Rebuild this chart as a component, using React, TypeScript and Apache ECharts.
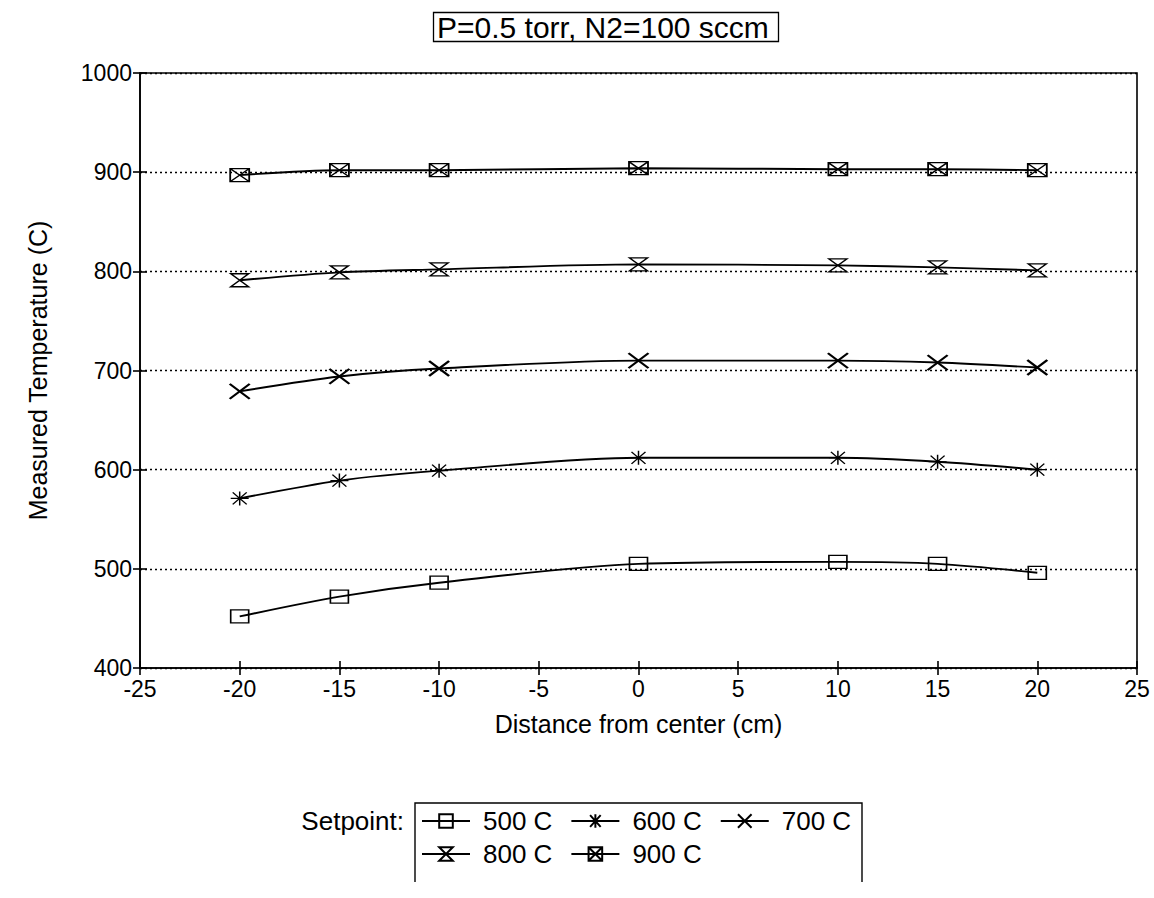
import React, { useEffect, useRef } from "react";
import * as echarts from "echarts";

const xValues = [-20, -15, -10, 0, 10, 15, 20];
const t500 = [452, 472, 486, 505, 507, 505, 496];
const t600 = [571, 589, 599, 612, 612, 608, 600];
const t700 = [679, 694, 702, 710, 710, 708, 703];
const t800 = [791, 799, 802, 807, 806, 804, 801];
const t900 = [897, 902, 902, 904, 903, 903, 902];
const seriesNames = ["500 C", "600 C", "700 C", "800 C", "900 C"];
const titleText = "P=0.5 torr, N2=100 sccm";
const xTitle = "Distance from center (cm)";
const yTitle = "Measured Temperature (C)";
const legendLabel = "Setpoint:";

const FONT = "'Liberation Sans', Arial, Helvetica, sans-serif";

const symbols = [
  "path://M0,0L18,0L18,13L0,13Z",
  "path://M0,7L18,7M9,0L9,14M2,1L16,13M16,1L2,13",
  "path://M0,0L20,15M20,0L0,15",
  "path://M0,0L18,0L0,13L18,13Z",
  "path://M0,0L18,0L18,13L0,13ZM0,0L18,13M18,0L0,13",
];
const symbolSizes = [[18, 13], [18, 14], [20, 15], [18, 13], [19, 13]];
const borderWidths = [1.4, 1.3, 2.2, 1.5, 1.5];

export default function App() {
  const ref = useRef<HTMLDivElement>(null);
  useEffect(() => {
    const chart = echarts.init(ref.current!, null, { renderer: "svg" });
    const allData = [t500, t600, t700, t800, t900];
    const series = allData.map((vals, si) => ({
      type: "line",
      name: seriesNames[si],
      data: xValues.map((x, i) => [x, vals[i]]),
      xAxisIndex: 0,
      yAxisIndex: 0,
      smooth: 0.3,
      symbol: symbols[si],
      symbolSize: symbolSizes[si],
      symbolKeepAspect: false,
      lineStyle: { color: "#000", width: 1.9 },
      itemStyle: { color: "rgba(0,0,0,0)", borderColor: "#000", borderWidth: borderWidths[si] },
      emphasis: { disabled: true },
      z: 3,
    }));
    const axisLineStyle = { color: "#000", width: 1.6 };
    const textBase = { color: "#000", fontFamily: FONT };
    const legendCommon = {
      orient: "horizontal",
      itemWidth: 48,
      itemHeight: 17,
      itemGap: 18,
      selectedMode: false,
      textStyle: { ...textBase, fontSize: 26, padding: [0, 0, 0, 8] },
      padding: 0,
    };
    const option = {
      animation: false,
      backgroundColor: "#fff",
      title: {
        text: titleText,
        left: 433,
        top: 12,
        padding: [0, 10, 0, 4],
        borderColor: "#000",
        borderWidth: 1.3,
        textStyle: { ...textBase, fontSize: 30, fontWeight: "normal" },
      },
      grid: {
        left: 140,
        right: 17,
        top: 73,
        bottom: 230,
        show: true,
        borderColor: "#000",
        borderWidth: 1.6,
        backgroundColor: "transparent",
      },
      xAxis: [
        {
          type: "value",
          min: -25,
          max: 25,
          interval: 5,
          axisLine: { onZero: false, lineStyle: axisLineStyle },
          axisTick: { length: 7, lineStyle: axisLineStyle },
          axisLabel: { ...textBase, fontSize: 23, margin: 9 },
          splitLine: { show: false },
          name: xTitle,
          nameLocation: "middle",
          nameGap: 43,
          nameTextStyle: { ...textBase, fontSize: 25 },
        },
        {
          type: "value",
          min: -25,
          max: 25,
          interval: 5,
          position: "bottom",
          axisLine: { show: false, onZero: false },
          axisTick: { inside: true, length: 7, lineStyle: axisLineStyle },
          axisLabel: { show: false },
          splitLine: { show: false },
        },
      ],
      yAxis: [
        {
          type: "value",
          min: 400,
          max: 1000,
          interval: 100,
          axisLine: { onZero: false, lineStyle: axisLineStyle },
          axisTick: { length: 7, lineStyle: axisLineStyle },
          axisLabel: {
            ...textBase,
            fontSize: 23,
            margin: 8,
            verticalAlign: "middle",
            formatter: (v: number) => String(v),
          },
          splitLine: { show: true, lineStyle: { color: "#000", width: 1.4, type: [2, 3] } },
          name: yTitle,
          nameLocation: "middle",
          nameGap: 90,
          nameTextStyle: { ...textBase, fontSize: 25 },
        },
        {
          type: "value",
          min: 400,
          max: 1000,
          interval: 100,
          position: "left",
          axisLine: { show: false, onZero: false },
          axisTick: { inside: true, length: 7, lineStyle: axisLineStyle },
          axisLabel: { show: false },
          splitLine: { show: false },
        },
      ],
      legend: [
        { ...legendCommon, data: seriesNames.slice(0, 3), left: 421, top: 808 },
        { ...legendCommon, data: seriesNames.slice(3), left: 421, top: 841 },
      ],
      graphic: [
        {
          type: "text",
          right: 1154 - 404,
          top: 808,
          style: { text: legendLabel, fill: "#000", font: `26px ${FONT}` },
        },
        {
          type: "polyline",
          shape: { points: [[415, 882], [415, 803], [862, 803], [862, 882]] },
          style: { stroke: "#000", fill: "none", lineWidth: 1.4 },
        },
      ],
      series,
    };
    chart.setOption(option as any);
    return () => chart.dispose();
  }, []);
  return (
    <div
      ref={ref}
      style={{ position: "absolute", left: 0, top: 0, width: 1154, height: 898 }}
    />
  );
}
